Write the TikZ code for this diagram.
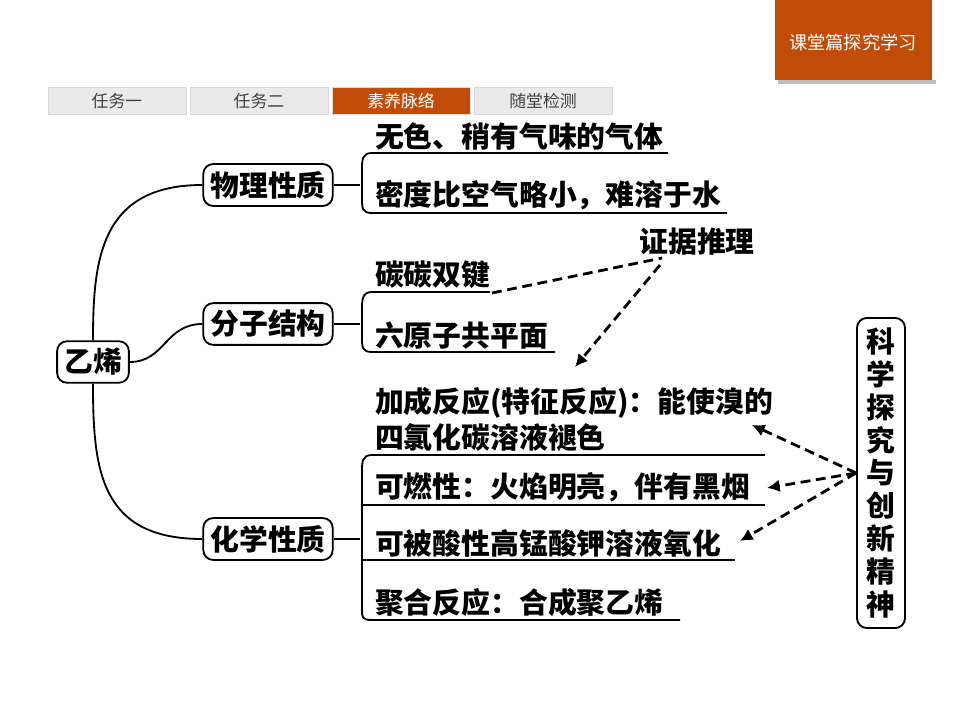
\documentclass[tikz,border=0pt]{standalone}
\usepackage{fontspec}
\setmainfont{Noto Sans CJK SC}
\usetikzlibrary{arrows.meta,positioning}
\definecolor{rust}{RGB}{192,76,8}
\definecolor{tabgray}{RGB}{234,234,234}
\tikzset{
  box/.style={draw,line width=1.3pt,rounded corners=7pt,inner sep=5pt,font=\fontsize{20.5}{22}\selectfont\bfseries},
  item/.style={anchor=south west,inner sep=2pt,font=\fontsize{20.5}{26}\selectfont\bfseries},
  uline/.style={line width=1.3pt},
  tab/.style={fill=tabgray,draw=black!15,minimum width=3.45cm,minimum height=0.68cm,font=\fontsize{12}{14}\selectfont,text=black!75},
  dasharrow/.style={dashed,line width=2pt,dash pattern=on 7pt off 4pt,-{Latex[length=9pt,width=9pt]}}
}
\begin{document}
\begin{tikzpicture}[x=0.025cm,y=-0.025cm]
\useasboundingbox (0,0) rectangle (960,720);

%%%%%%%%%%%%%%%%%%%%%%%%	CABECERA
\fill[black!25] (778,80) rectangle (936,84);
\fill[rust] (775,0) rectangle (932,80);
\node[text=white,font=\fontsize{13}{15}\selectfont] at (853,42) {课堂篇探究学习};
\node[tab] (t1) at (117,101) {任务一};
\node[tab] (t2) at (259,101) {任务二};
\node[tab,fill=rust,text=white] (t3) at (401,101) {素养脉络};
\node[tab] (t4) at (543,101) {随堂检测};

%%%%%%%%%%%%%%%%%%%%%%%%	NODOS
\node[box] (eth) at (93,362) {乙烯};
\node[box] (phy) at (268,185) {物理性质};
\node[box] (mol) at (268,324) {分子结构};
\node[box] (chem) at (268,539) {化学性质};
\node[draw,line width=1.3pt,rounded corners=7pt,minimum width=1.2cm,minimum height=7.75cm,align=center,
      font=\fontsize{20.5}{23.3}\selectfont\bfseries] (sci) at (881,473) {科\\学\\探\\究\\与\\创\\新\\精\\神};

%%%%%%%%%%%%%%%%%%%%%%%%	RAMAS
\draw[uline] (phy.west) .. controls (100,185) and (93,260) .. (eth.north);
\draw[uline] (eth.south) .. controls (93,470) and (100,539) .. (chem.west);
\draw[uline] (eth.east) .. controls (165,362) and (165,324) .. (mol.west);

%%%%%%%%%%%%%%%%%%%%%%%%	FISICAS
\node[item] (p1) at (372,153) {无色、稍有气味的气体};
\node[item] (p2) at (372,213) {密度比空气略小，难溶于水};
\draw[uline] (phy.east) -- (360,185);
\draw[uline] (668,153) -- (372,153) .. controls (362,153) and (362,160) .. (362,170) -- (362,198) .. controls (362,208) and (362,213) .. (372,213) -- (727,213);

%%%%%%%%%%%%%%%%%%%%%%%%	ESTRUCTURA
\node[item] (m1) at (372,292) {碳碳双键};
\node[item] (m2) at (372,352) {六原子共平面};
\draw[uline] (mol.east) -- (360,324);
\draw[uline] (490,292) -- (372,292) .. controls (362,292) and (362,300) .. (362,310) -- (362,337) .. controls (362,347) and (362,352) .. (372,352) -- (555,352);

%%%%%%%%%%%%%%%%%%%%%%%%	QUIMICAS
\node[item,align=left] (c1) at (372,455) {加成反应(特征反应)：能使溴的\\四氯化碳溶液褪色};
\node[item] (c2) at (372,505) {可燃性：火焰明亮，伴有黑烟};
\node[item] (c3) at (372,560) {可被酸性高锰酸钾溶液氧化};
\node[item] (c4) at (372,620) {聚合反应：合成聚乙烯};
\draw[uline] (chem.east) -- (360,539);
\draw[uline] (765,455) -- (372,455) .. controls (362,455) and (362,462) .. (362,472) -- (362,610) .. controls (362,617) and (362,620) .. (372,620) -- (680,620);
\draw[uline] (362,505) -- (765,505);
\draw[uline] (362,560) -- (735,560);

%%%%%%%%%%%%%%%%%%%%%%%%	EVIDENCIA
\node[font=\fontsize{20.5}{22}\selectfont\bfseries] (evi) at (697,242) {证据推理};
\draw[dashed,line width=2pt,dash pattern=on 7pt off 4pt] (492,293) -- (662,258);
\draw[dasharrow] (660,265) -- (575,367);

\draw[dasharrow] (sci.west) -- (752,425);
\draw[dasharrow] (sci.west) -- (767,488);
\draw[dasharrow] (sci.west) -- (740,541);
\end{tikzpicture}
\end{document}
